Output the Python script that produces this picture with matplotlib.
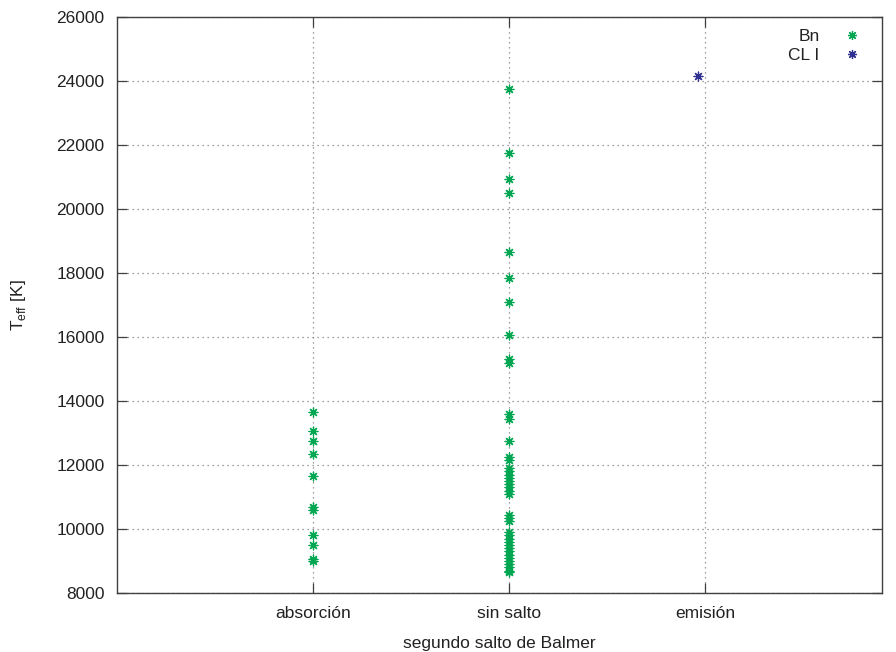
import matplotlib
matplotlib.use("Agg")
import matplotlib.pyplot as plt
from matplotlib.lines import Line2D

plt.rcParams['font.family'] = ['Liberation Sans', 'DejaVu Sans']

categories = ["absorción", "sin salto", "emisión"]
cat_pos = [1, 2, 3]

# Bn stars
bn_absorcion = [13650, 13050, 12750, 12350, 11650, 10700, 10600, 9800, 9500, 9050, 9000]
bn_sin_salto = [23750, 21750, 20950, 20500, 18650, 17850, 17100, 16050, 15300, 15200,
                13600, 13450, 12750, 12250, 12150,
                11900, 11800, 11700, 11600, 11500, 11400, 11300, 11200, 11100,
                10450, 10350, 10250,
                9900, 9800, 9700, 9600, 9500, 9400, 9300, 9200, 9100, 9000,
                8900, 8800, 8700, 8650]
# CL I star
cl_x = [2.96]
cl_y = [24150]

green = "#00a651"
blue = "#2e3192"
marker = (8, 2, 0)

fig = plt.figure(figsize=(8.96, 6.52), dpi=100)
ax = fig.add_axes([117/896, 1 - 593/652, (882-117)/896, (593-17)/652])

ax.scatter([cat_pos[0]] * len(bn_absorcion), bn_absorcion, marker=marker, s=40,
           color=green, linewidths=0.9, zorder=3)
ax.scatter([cat_pos[1]] * len(bn_sin_salto), bn_sin_salto, marker=marker, s=40,
           color=green, linewidths=0.9, zorder=3)
ax.scatter(cl_x, cl_y, marker=marker, s=40, color=blue, linewidths=0.9, zorder=3)

ax.set_xlim(0, 3.9)
ax.set_ylim(8000, 26000)
ax.set_xticks(cat_pos)
ax.set_xticklabels(categories)
ax.set_yticks(range(8000, 26001, 2000))

ax.grid(True, linestyle=(0, (1, 3)), color="#808080", linewidth=0.9)
ax.set_axisbelow(True)
ax.tick_params(direction="in", length=7, width=0.9, color="#404040",
               top=True, right=True, labelsize=12.5, labelcolor="#222222", pad=9)
for s in ax.spines.values():
    s.set_color("#404040")
    s.set_linewidth(1.0)

ax.set_xlabel("segundo salto de Balmer", fontsize=12.5, color="#222222", labelpad=11)
ax.set_ylabel(r"T$_{\mathregular{eff}}$ [K]", fontsize=12.5, color="#222222", labelpad=20)

handles = [Line2D([], [], linestyle="none", marker=marker, color=green, markersize=6.5, markeredgewidth=0.9),
           Line2D([], [], linestyle="none", marker=marker, color=blue, markersize=6.5, markeredgewidth=0.9)]
leg = ax.legend(handles, ["Bn", "CL I"], loc="upper right", frameon=False,
                markerfirst=False, fontsize=12.5, handletextpad=0.9,
                labelspacing=0.2, borderaxespad=0.3)
for t in leg.get_texts():
    t.set_ha("right")
    t.set_color("#222222")

fig.savefig("out.png", dpi=100)
